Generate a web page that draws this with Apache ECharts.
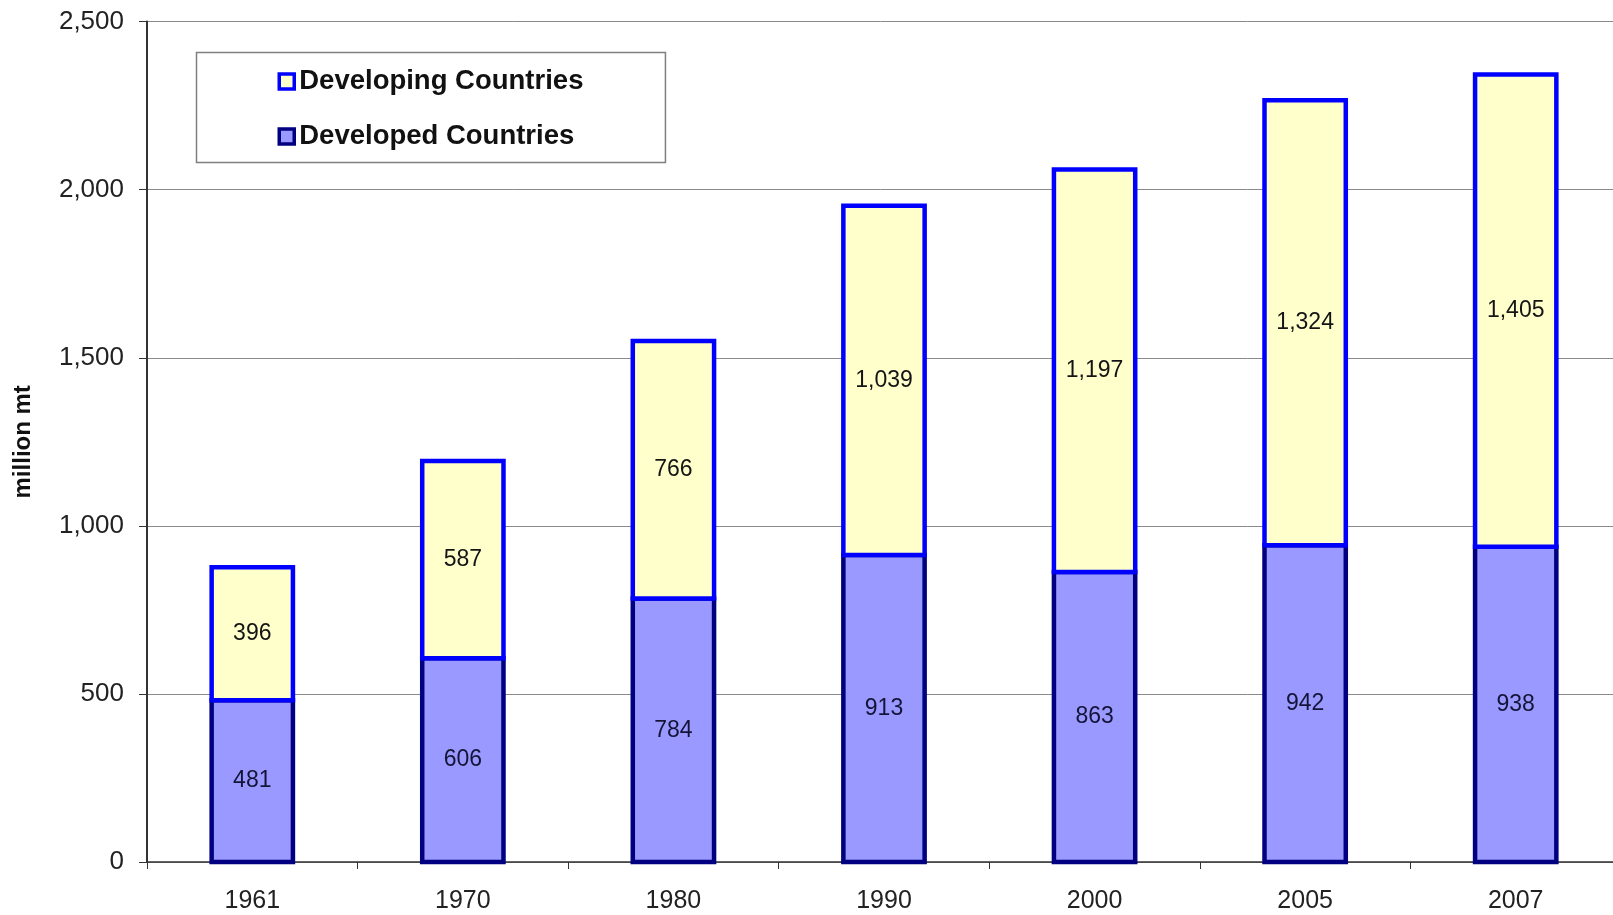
<!DOCTYPE html>
<html>
<head>
<meta charset="utf-8">
<title>Production, Developing vs Developed Countries</title>
<script src="https://cdn.jsdelivr.net/npm/echarts@6/dist/echarts.min.js"></script>
<style>
  html, body { margin: 0; padding: 0; background: #ffffff; }
  #chart { width: 1613px; height: 915px; }
</style>
</head>
<body>
<div id="chart"></div>
<script>
// Years on the category axis
var years = ['1961', '1970', '1980', '1990', '2000', '2005', '2007'];
// Million metric tonnes, stacked: developed at the base, developing on top
var developed = [481, 606, 784, 913, 863, 942, 938];
var developing = [396, 587, 766, 1039, 1197, 1324, 1405];
// Value axis ticks
var yTicks = [0, 500, 1000, 1500, 2000, 2500];

var fontFamily = 'Liberation Sans, Arial, Helvetica, sans-serif';

function fmt(v) {
  return Number(v).toLocaleString('en-US');
}

// Share of a category slot taken by a bar (border is centred on the bar edge)
var BAR_RATIO = 0.386;
var OUTLINE = 4.5;

// Builds one stacked layer as a custom series so each bar's outline sits
// centred on its value boundary; the upper layer's outline covers the seam.
function stackedLayer(name, values, bases, fill, stroke, labelColor) {
  var data = values.map(function (v, i) {
    return [i, bases[i], bases[i] + v, v];
  });
  return {
    name: name,
    type: 'custom',
    data: data,
    encode: { x: 0, y: [1, 2] },
    itemStyle: { color: fill, borderColor: stroke, borderWidth: OUTLINE },
    renderItem: function (params, api) {
      var i = api.value(0);
      var lo = api.coord([i, api.value(1)]);
      var hi = api.coord([i, api.value(2)]);
      var bw = api.size([1, 0])[0] * BAR_RATIO;
      return {
        type: 'rect',
        shape: { x: lo[0] - bw / 2, y: hi[1], width: bw, height: lo[1] - hi[1] },
        style: { fill: fill, stroke: stroke, lineWidth: OUTLINE },
        textContent: {
          style: {
            text: fmt(api.value(3)),
            fontSize: 23,
            fontFamily: fontFamily,
            fill: labelColor
          }
        },
        textConfig: { position: 'inside' }
      };
    }
  };
}

var zeros = developed.map(function () { return 0; });

var chart = echarts.init(document.getElementById('chart'), null, { renderer: 'canvas' });

chart.setOption({
  animation: false,
  backgroundColor: '#ffffff',
  textStyle: { fontFamily: fontFamily },
  grid: {
    left: 147,
    top: 21.6,
    width: 1474,
    bottom: 53,
    containLabel: false,
    outerBoundsMode: 'none'
  },
  legend: {
    orient: 'vertical',
    left: 196.5,
    top: 52.5,
    padding: [15, 82, 12, 81],
    backgroundColor: '#ffffff',
    borderColor: '#7f7f7f',
    borderWidth: 1.5,
    borderRadius: 0,
    itemWidth: 15,
    itemHeight: 15,
    itemGap: 27,
    icon: 'rect',
    textStyle: {
      fontFamily: fontFamily,
      fontSize: 27.5,
      fontWeight: 'bold',
      color: '#111111',
      lineHeight: 27.5
    },
    data: [
      { name: 'Developing Countries', itemStyle: { color: '#FFFFCC', borderColor: '#0000FF', borderWidth: 3.5 } },
      { name: 'Developed Countries', itemStyle: { color: '#9999FF', borderColor: '#000080', borderWidth: 3.5 } }
    ]
  },
  xAxis: {
    type: 'category',
    data: years,
    boundaryGap: true,
    axisLine: { show: true, lineStyle: { color: '#333333', width: 1.5 } },
    axisTick: { show: true, alignWithLabel: false, length: 7, inside: false, lineStyle: { color: '#333333', width: 1 } },
    axisLabel: {
      margin: 27,
      fontSize: 25,
      color: '#222222',
      fontFamily: fontFamily
    },
    splitLine: { show: false }
  },
  yAxis: {
    type: 'value',
    min: yTicks[0],
    max: yTicks[yTicks.length - 1],
    interval: yTicks[1] - yTicks[0],
    name: 'million mt',
    nameLocation: 'middle',
    nameRotate: 90,
    nameGap: 112,
    nameTextStyle: {
      fontFamily: fontFamily,
      fontSize: 24,
      fontWeight: 'bold',
      color: '#111111'
    },
    axisLine: { show: true, lineStyle: { color: '#333333', width: 2 } },
    axisTick: { show: true, length: 8, lineStyle: { color: '#333333', width: 1 } },
    axisLabel: {
      margin: 23,
      fontSize: 26,
      color: '#222222',
      fontFamily: fontFamily,
      formatter: function (v) { return fmt(v); }
    },
    splitLine: { show: true, lineStyle: { color: '#8a8a8a', width: 1 } }
  },
  series: [
    stackedLayer('Developed Countries', developed, zeros, '#9999FF', '#000080', '#141438'),
    stackedLayer('Developing Countries', developing, developed, '#FFFFCC', '#0000FF', '#141414')
  ]
});
</script>
</body>
</html>
